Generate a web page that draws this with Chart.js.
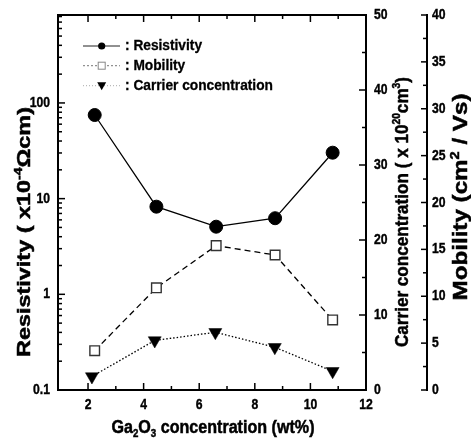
<!DOCTYPE html>
<html><head><meta charset="utf-8">
<script src="https://cdn.jsdelivr.net/npm/chart.js@4.4.0/dist/chart.umd.min.js"></script>
<style>html,body{margin:0;padding:0;background:#fff;}canvas{display:block}</style>
</head><body>
<canvas id="c" width="471" height="440"></canvas>
<script>
// ---- data ----
const gaConc = [2.24, 4.46, 6.61, 8.73, 10.8];
const gaConcCarrier = [2.14, 4.40, 6.58, 8.72, 10.8];
const resistivity = [74.8, 8.24, 5.09, 6.24, 30.2];
const mobility = [4.19, 10.9, 15.4, 14.4, 7.47];
const carrier = [1.8, 6.6, 7.7, 5.7, 2.5];
const seriesNames = [': Resistivity', ': Mobility', ': Carrier concentration'];
// ---- ticks ----
const xTicks = [2, 4, 6, 8, 10, 12];
const xMinorTicks = [3, 5, 7, 9, 11];
const resTicks = [0.1, 1, 10, 100];
const resTickLabels = ['0.1', '1', '10', '100'];
const resDecades = [0.1, 1, 10, 100];
const carrierTicks = [0, 10, 20, 30, 40, 50];
const carrierMinorTicks = [5, 15, 25, 35, 45];
const mobilityTicks = [0, 5, 10, 15, 20, 25, 30, 35, 40];
const mobilityMinorTicks = [2.5, 7.5, 12.5, 17.5, 22.5, 27.5, 32.5, 37.5];

const FONT = "'Liberation Sans', Arial, sans-serif";

function rich(ctx, parts, size, px, py, angle, targetLen) {
  ctx.save();
  const widths = parts.map(p => {
    ctx.font = 'bold ' + (p[1] ? size * 0.6 : size) + 'px ' + FONT;
    return ctx.measureText(p[0]).width;
  });
  const total = widths.reduce((s, w) => s + w, 0);
  ctx.translate(px, py);
  ctx.rotate(angle);
  ctx.scale(targetLen / total, 1);
  ctx.textBaseline = 'alphabetic';
  ctx.textAlign = 'left';
  ctx.lineWidth = 0.5;
  ctx.strokeStyle = '#000';
  let x = -total / 2;
  parts.forEach((p, i) => {
    ctx.font = 'bold ' + (p[1] ? size * 0.6 : size) + 'px ' + FONT;
    const dy = p[1] === 1 ? -size * 0.42 : (p[1] === -1 ? size * 0.22 : 0);
    ctx.fillText(p[0], x, dy);
    ctx.strokeText(p[0], x, dy);
    x += widths[i];
  });
  ctx.restore();
}

function label(ctx, text, x, y, align, size, sx, stroke) {
  ctx.save();
  ctx.translate(x, y);
  ctx.scale(sx, 1);
  ctx.font = 'bold ' + size + 'px ' + FONT;
  ctx.textAlign = align;
  ctx.textBaseline = 'middle';
  ctx.fillText(text, 0, 0);
  if (stroke) { ctx.lineWidth = stroke; ctx.strokeStyle = '#000'; ctx.strokeText(text, 0, 0); }
  ctx.restore();
}

function seg(ctx, x1, y1, x2, y2) {
  ctx.beginPath(); ctx.moveTo(x1, y1); ctx.lineTo(x2, y2); ctx.stroke();
}

const axesPlugin = {
  id: 'axes',
  afterDatasetsDraw(chart) {
    const ctx = chart.ctx;
    const a = chart.chartArea;
    const X = chart.scales.x, Y = chart.scales.y, C = chart.scales.yC, M = chart.scales.yM;
    const mobX = 427;
    ctx.save();
    ctx.strokeStyle = '#000';
    ctx.fillStyle = '#000';
    ctx.lineWidth = 2;
    ctx.strokeRect(a.left, a.top, a.right - a.left, a.bottom - a.top);
    seg(ctx, mobX, M.getPixelForValue(0) + 1, mobX, M.getPixelForValue(40) - 1);

    ctx.lineWidth = 1.5;
    // x ticks bottom & top
    xTicks.forEach(v => { const x = X.getPixelForValue(v); seg(ctx, x, a.bottom, x, a.bottom - 7); seg(ctx, x, a.top, x, a.top + 7); });
    xMinorTicks.forEach(v => { const x = X.getPixelForValue(v); seg(ctx, x, a.bottom, x, a.bottom - 4); seg(ctx, x, a.top, x, a.top + 4); });
    // log left ticks
    resTicks.forEach(v => { const y = Y.getPixelForValue(v); seg(ctx, a.left, y, a.left + 7, y); });
    resDecades.forEach(d => { for (let k = 2; k <= 9; k++) { const v = k * d; if (v <= Y.max) { const y = Y.getPixelForValue(v); seg(ctx, a.left, y, a.left + 4, y); } } });
    // carrier (right edge)
    carrierTicks.forEach(v => { const y = C.getPixelForValue(v); seg(ctx, a.right, y, a.right - 7, y); });
    carrierMinorTicks.forEach(v => { const y = C.getPixelForValue(v); seg(ctx, a.right, y, a.right - 4, y); });
    // mobility axis
    mobilityTicks.forEach(v => { const y = M.getPixelForValue(v); seg(ctx, mobX, y, mobX - 6, y); });
    mobilityMinorTicks.forEach(v => { const y = M.getPixelForValue(v); seg(ctx, mobX, y, mobX - 4, y); });

    // tick labels
    resTicks.forEach((v, i) => label(ctx, resTickLabels[i], 50, Y.getPixelForValue(v), 'right', 14.5, 0.84, 0.4));
    xTicks.forEach(v => label(ctx, String(v), X.getPixelForValue(v), 405, 'center', 14.5, 0.84, 0.4));
    carrierTicks.forEach(v => label(ctx, String(v), 374, C.getPixelForValue(v), 'left', 14.5, 0.84, 0.4));
    mobilityTicks.forEach(v => label(ctx, String(v), 432, M.getPixelForValue(v), 'left', 14.5, 0.84, 0.4));

    // axis titles
    rich(ctx, [['Ga', 0], ['2', -1], ['O', 0], ['3', -1], [' concentration (wt%)', 0]], 18, 213, 433, 0, 203);
    rich(ctx, [['Resistivity ( x10', 0], ['-4', 1], ['\u03A9cm)', 0]], 19, 30, 232, -Math.PI / 2, 250);
    rich(ctx, [['Carrier concentration ( x 10', 0], ['20', 1], ['cm', 0], ['3', 1], [')', 0]], 19, 408, 212, -Math.PI / 2, 270);
    rich(ctx, [['Mobility (cm', 0], ['2', 1], [' / Vs)', 0]], 20, 467, 197, -Math.PI / 2, 207);

    // legend
    const rows = [46, 65.7, 85.7];
    const lx1 = 83, lx2 = 120, mx = 101.7, tx = 125;
    // resistivity
    ctx.lineWidth = 1; ctx.strokeStyle = '#222'; ctx.setLineDash([]);
    seg(ctx, lx1, rows[0], lx2, rows[0]);
    ctx.beginPath(); ctx.arc(mx, rows[0], 3.6, 0, Math.PI * 2); ctx.fillStyle = '#000'; ctx.fill();
    // mobility
    ctx.strokeStyle = '#777'; ctx.setLineDash([2, 2]);
    seg(ctx, lx1, rows[1], lx2, rows[1]);
    ctx.setLineDash([]); ctx.fillStyle = '#fff'; ctx.fillRect(mx - 3.5, rows[1] - 3.5, 7, 7);
    ctx.strokeStyle = '#888'; ctx.strokeRect(mx - 3.5, rows[1] - 3.5, 7, 7);
    // carrier
    ctx.strokeStyle = '#aaa'; ctx.setLineDash([1, 2]);
    seg(ctx, lx1, rows[2], lx2, rows[2]);
    ctx.setLineDash([]); ctx.fillStyle = '#000';
    ctx.beginPath(); ctx.moveTo(mx - 4.5, rows[2] - 3.5); ctx.lineTo(mx + 4.5, rows[2] - 3.5); ctx.lineTo(mx, rows[2] + 4.5); ctx.closePath(); ctx.fill();
    seriesNames.forEach((n, i) => label(ctx, n, tx, rows[i], 'left', 14, 0.98, 0.3));
    ctx.restore();
  }
};

new Chart(document.getElementById('c'), {
  type: 'line',
  data: {
    datasets: [
      {
        label: 'Resistivity', yAxisID: 'y',
        data: gaConc.map((x, i) => ({ x, y: resistivity[i] })),
        borderColor: '#000', borderWidth: 1.3, backgroundColor: '#000',
        pointStyle: 'circle', pointRadius: 6.5, pointBorderWidth: 1, pointBackgroundColor: '#000', pointBorderColor: '#000'
      },
      {
        label: 'Mobility', yAxisID: 'yM',
        data: gaConc.map((x, i) => ({ x, y: mobility[i] })),
        borderColor: '#000', borderWidth: 1.3, borderDash: [6, 4],
        pointStyle: 'rect', pointRadius: 6.8, pointBorderWidth: 1.4, pointBackgroundColor: '#fff', pointBorderColor: '#333'
      },
      {
        label: 'Carrier concentration', yAxisID: 'yC',
        data: gaConcCarrier.map((x, i) => ({ x, y: carrier[i] })),
        borderColor: '#000', borderWidth: 1.3, borderDash: [1.5, 2],
        pointStyle: 'triangle', pointRotation: 180, pointRadius: 7.5, pointBorderWidth: 0.5, pointBackgroundColor: '#000', pointBorderColor: '#000'
      }
    ]
  },
  options: {
    responsive: false, animation: false, devicePixelRatio: 1,
    layout: { padding: { left: 58, right: 105, top: 15, bottom: 50 } },
    clip: false,
    scales: {
      x: { type: 'linear', min: 0.92, max: 12, display: false },
      y: { type: 'logarithmic', min: 0.1, max: 830, display: false },
      yC: { type: 'linear', min: 0, max: 50, display: false },
      yM: { type: 'linear', min: 0, max: 40, display: false }
    },
    plugins: { legend: { display: false }, tooltip: { enabled: false } },
    elements: { line: { tension: 0 } }
  },
  plugins: [axesPlugin]
});
</script>
</body></html>
